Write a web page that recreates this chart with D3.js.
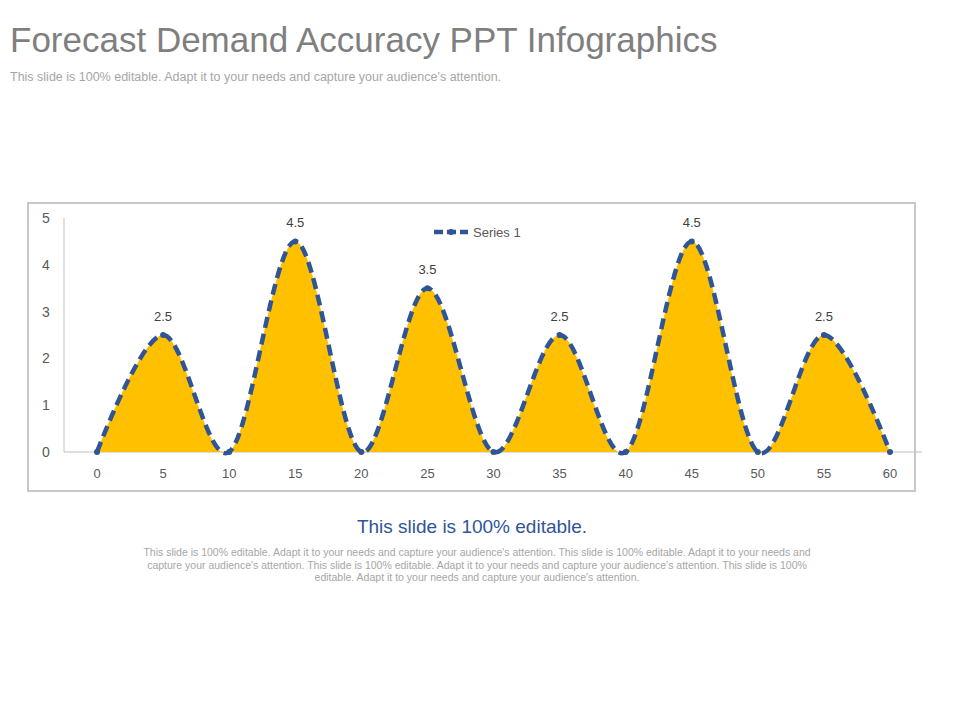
<!DOCTYPE html>
<html><head><meta charset="utf-8">
<script src="https://cdn.jsdelivr.net/npm/d3@7"></script>
<style>body{margin:0;background:#fff;font-family:Arial,"Liberation Sans",sans-serif}</style>
</head><body><svg id="c" width="960" height="720"></svg>
<script>
const xValues=[0,5,10,15,20,25,30,35,40,45,50,55,60];
const series1=[0,2.5,0,4.5,0,3.5,0,2.5,0,4.5,0,2.5,0];
const xTicks=[0,5,10,15,20,25,30,35,40,45,50,55,60];
const yTicks=[0,1,2,3,4,5];
const data=xValues.map((x,i)=>({x,y:series1[i]}));
const svg=d3.select("#c");
svg.append("text").attr("x",10).attr("y",52).attr("font-size",35).attr("fill","#7f7f7f").text("Forecast Demand Accuracy PPT Infographics");
svg.append("text").attr("x",10).attr("y",81).attr("font-size",12.5).attr("fill","#a6a6a6").text("This slide is 100% editable.  Adapt it to your needs and capture your audience’s attention.");
svg.append("rect").attr("x",28).attr("y",203).attr("width",887).attr("height",288).attr("fill","none").attr("stroke","#c8c8c8").attr("stroke-width",2);
const x=d3.scaleLinear().domain([0,60]).range([97,890]);
const y=d3.scaleLinear().domain([0,5]).range([452,218]);
svg.append("line").attr("x1",64).attr("x2",922).attr("y1",y(0)).attr("y2",y(0)).attr("stroke","#bfbfbf");
svg.append("line").attr("x1",64).attr("x2",64).attr("y1",y(0)).attr("y2",y(5)).attr("stroke","#bfbfbf");
svg.selectAll(".yt").data(yTicks).join("text").attr("x",46).attr("y",d=>y(d)+5).attr("text-anchor","middle").attr("font-size",14).attr("fill","#595959").text(d=>d);
svg.selectAll(".xt").data(xTicks).join("text").attr("x",d=>x(d)).attr("y",478).attr("text-anchor","middle").attr("font-size",13).attr("fill","#595959").text(d=>d);
const curve=d3.curveCardinal.tension(0);
svg.append("path").datum(data).attr("d",d3.area().x(d=>x(d.x)).y0(y(0)).y1(d=>Math.min(y(0),y(d.y))).curve(curve)).attr("fill","#FFC000");
svg.append("path").datum(data).attr("d",d3.line().x(d=>x(d.x)).y(d=>y(d.y)).curve(curve)).attr("fill","none").attr("stroke","#2F5597").attr("stroke-width",4.5).attr("stroke-dasharray","11,6");
svg.selectAll(".pt").data(data).join("circle").attr("cx",d=>x(d.x)).attr("cy",d=>y(d.y)).attr("r",3).attr("fill","#2F5597");
svg.selectAll(".lb").data(data.filter(d=>d.y>0)).join("text").attr("x",d=>x(d.x)).attr("y",d=>y(d.y)-14).attr("text-anchor","middle").attr("font-size",13).attr("fill","#404040").text(d=>d.y);
svg.append("line").attr("x1",434).attr("x2",468).attr("y1",232).attr("y2",232).attr("stroke","#2F5597").attr("stroke-width",4.5).attr("stroke-dasharray","9,4");
svg.append("circle").attr("cx",451).attr("cy",232).attr("r",3).attr("fill","#2F5597");
svg.append("text").attr("x",473).attr("y",237).attr("font-size",13).attr("fill","#595959").text("Series 1");
svg.append("text").attr("x",472).attr("y",533).attr("text-anchor","middle").attr("font-size",19).attr("fill","#2F5597").text("This slide is 100% editable.");
const body=["This slide is 100% editable. Adapt it to your needs and capture your audience's attention. This slide is 100% editable. Adapt it to your needs and","capture your audience's attention. This slide is 100% editable. Adapt it to your needs and capture your audience's attention. This slide is 100%","editable. Adapt it to your needs and capture your audience's attention."];
svg.selectAll(".bd").data(body).join("text").attr("x",477).attr("y",(d,i)=>556+i*12.5).attr("text-anchor","middle").attr("font-size",10.5).attr("fill","#a6a6a6").text(d=>d);
</script></body></html>
